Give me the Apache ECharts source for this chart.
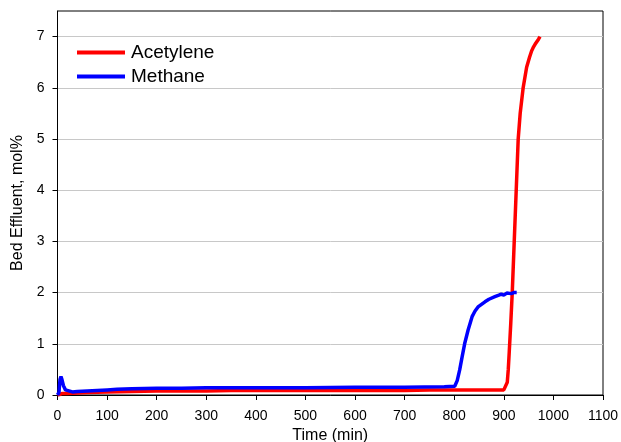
<!DOCTYPE html>
<html>
<head>
<meta charset="utf-8">
<script src="https://cdn.jsdelivr.net/npm/echarts@6/dist/echarts.min.js"></script>
<style>
  html, body { margin: 0; padding: 0; background: #fff; }
  #chart { width: 621px; height: 442px; }
</style>
</head>
<body>
<div id="chart"></div>
<script>
// Bed effluent concentration over time (min, mol%)
const acetyleneTime = [0, 5, 10, 20, 40, 60, 100, 150, 200, 250, 300, 350, 400, 450, 500, 550, 600, 650, 700, 750, 800, 850, 880, 900, 904, 907, 909, 911, 914, 917, 921, 925, 929, 933, 939, 946, 952, 956, 960, 963, 966, 970, 973];
const acetyleneValue = [0.0, 0.01, 0.03, 0.03, 0.04, 0.05, 0.06, 0.07, 0.08, 0.08, 0.08, 0.09, 0.09, 0.09, 0.09, 0.09, 0.09, 0.09, 0.09, 0.1, 0.1, 0.1, 0.1, 0.1, 0.12, 0.25, 0.5, 0.85, 1.4, 2.0, 3.0, 4.0, 5.0, 5.5, 6.0, 6.4, 6.6, 6.72, 6.8, 6.85, 6.88, 6.95, 7.0];

const methaneTime = [0, 3, 5, 7, 9, 12, 16, 20, 30, 40, 60, 80, 100, 120, 150, 200, 250, 300, 400, 500, 600, 700, 780, 801, 806, 811, 816, 821, 828, 836, 842, 848, 855, 862, 870, 882, 890, 895, 900, 906, 915, 920, 926];
const methaneValue = [0.0, 0.05, 0.3, 0.36, 0.3, 0.18, 0.1, 0.07, 0.06, 0.07, 0.08, 0.09, 0.1, 0.11, 0.12, 0.13, 0.13, 0.14, 0.14, 0.14, 0.15, 0.15, 0.16, 0.17, 0.28, 0.49, 0.75, 1.0, 1.27, 1.53, 1.64, 1.72, 1.77, 1.82, 1.87, 1.92, 1.95, 1.97, 1.95, 1.99, 1.98, 2.0, 2.0];

const yTicks = [0, 1, 2, 3, 4, 5, 6, 7];
const seriesNames = ['Acetylene', 'Methane'];

const pairs = (xs, ys) => xs.map((x, i) => [x, ys[i]]);

const font = 'Liberation Sans, Arial, sans-serif';
const chart = echarts.init(document.getElementById('chart'), null, { renderer: 'canvas' });

chart.setOption({
  animation: false,
  backgroundColor: '#ffffff',
  grid: {
    left: 57.5, right: 18, top: 11, bottom: 47,
    outerBoundsMode: 'none',
    containLabel: false,
    show: true, borderColor: '#000', borderWidth: 1, backgroundColor: 'transparent'
  },
  legend: {
    data: seriesNames,
    left: 72, top: 38,
    orient: 'vertical',
    icon: 'rect',
    itemWidth: 48, itemHeight: 4,
    itemGap: 5,
    textStyle: { fontFamily: font, fontSize: 19, color: '#000', padding: [0, 0, 0, 1] }
  },
  xAxis: {
    type: 'value',
    min: 0, max: 1100, interval: 100,
    name: 'Time (min)',
    nameLocation: 'middle',
    nameGap: 31,
    nameTextStyle: { fontFamily: font, fontSize: 16, color: '#000' },
    axisLine: { show: true, onZero: false, lineStyle: { color: '#000', width: 1 } },
    axisTick: { show: true, length: 5, lineStyle: { color: '#000' } },
    axisLabel: { fontFamily: font, fontSize: 14, color: '#000', margin: 14, formatter: v => String(v) },
    splitLine: { show: false }
  },
  yAxis: {
    type: 'value',
    min: 0, max: 7.5, interval: 1,
    name: 'Bed Effluent, mol%',
    nameLocation: 'middle',
    nameGap: 31,
    nameTextStyle: { fontFamily: font, fontSize: 16, color: '#000' },
    axisLine: { show: true, lineStyle: { color: '#000', width: 1 } },
    axisTick: { show: true, length: 5, customValues: yTicks, lineStyle: { color: '#000' } },
    axisLabel: { fontFamily: font, fontSize: 14, color: '#000', margin: 13, customValues: yTicks },
    splitLine: { show: true, lineStyle: { color: '#c8c8c8', width: 1 } }
  },
  series: [
    {
      name: seriesNames[0], type: 'line', data: pairs(acetyleneTime, acetyleneValue),
      showSymbol: false, color: '#ff0000', z: 2,
      lineStyle: { color: '#ff0000', width: 3.5 }
    },
    {
      name: seriesNames[1], type: 'line', data: pairs(methaneTime, methaneValue),
      showSymbol: false, color: '#0000ff', z: 3,
      lineStyle: { color: '#0000ff', width: 3.5 }
    }
  ]
});
</script>
</body>
</html>
